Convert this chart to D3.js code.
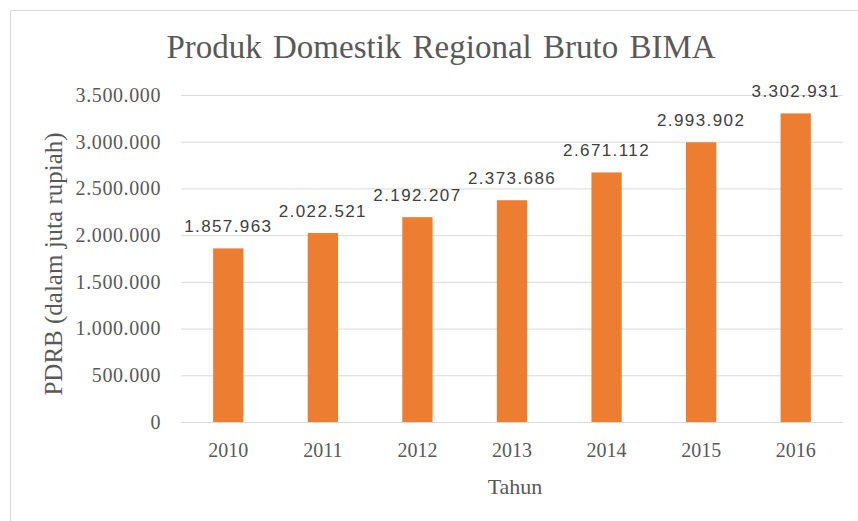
<!DOCTYPE html>
<html>
<head>
<meta charset="utf-8">
<script src="https://cdn.jsdelivr.net/npm/d3@7"></script>
<style>
  html, body { margin: 0; padding: 0; background: #fff; }
  svg { display: block; }
</style>
</head>
<body>
<svg id="chart" width="858" height="521"></svg>
<script>
// PDRB Kabupaten Bima, 2010-2016 (juta rupiah)
const years = ["2010", "2011", "2012", "2013", "2014", "2015", "2016"];
const pdrb = [1857963, 2022521, 2192207, 2373686, 2671112, 2993902, 3302931];
const yTicks = [0, 500000, 1000000, 1500000, 2000000, 2500000, 3000000, 3500000];

const titleText = "Produk Domestik Regional Bruto BIMA";
const yTitle = "PDRB (dalam juta rupiah)";
const xTitle = "Tahun";

const W = 858, H = 521;
const plot = { left: 181, right: 843, top: 95, bottom: 422 };
const serif = "'Liberation Serif', 'Times New Roman', serif";
const sans = "'Liberation Sans', Arial, sans-serif";

// Thousands separated with dots
const fmt = v => d3.format(",")(v).replace(/,/g, ".");

const svg = d3.select("#chart");

// Chart area frame (top and left edges)
svg.append("path")
  .attr("d", `M10.5,${H} L10.5,10.5 L${W},10.5`)
  .attr("fill", "none")
  .attr("stroke", "#d9d9d9")
  .attr("stroke-width", 1);

const x = d3.scaleBand()
  .domain(years)
  .range([plot.left, plot.right])
  .paddingInner(0.68)
  .paddingOuter(0.34);

const y = d3.scaleLinear()
  .domain([0, 3500000])
  .range([plot.bottom, plot.top]);

// Horizontal gridlines with tick labels
const yAxis = d3.axisLeft(y)
  .tickValues(yTicks)
  .tickSize(-(plot.right - plot.left))
  .tickPadding(20)
  .tickFormat(fmt);

const gy = svg.append("g")
  .attr("transform", `translate(${plot.left},0)`)
  .call(yAxis);
gy.select(".domain").remove();
gy.selectAll(".tick line").attr("stroke", "#d9d9d9").attr("stroke-width", 1);
gy.selectAll(".tick text")
  .attr("fill", "#595959")
  .style("font-family", serif)
  .style("font-size", "20px")
  .style("letter-spacing", "0.6px");

// Category axis labels
const xAxis = d3.axisBottom(x).tickSize(0).tickPadding(21);
const gx = svg.append("g")
  .attr("transform", `translate(0,${plot.bottom})`)
  .call(xAxis);
gx.select(".domain").remove();
gx.selectAll(".tick text")
  .attr("fill", "#595959")
  .style("font-family", serif)
  .style("font-size", "20px");

// Bars
svg.append("g")
  .selectAll("rect")
  .data(years.map((yr, i) => ({ yr, v: pdrb[i] })))
  .join("rect")
  .attr("x", d => x(d.yr))
  .attr("y", d => y(d.v))
  .attr("width", x.bandwidth())
  .attr("height", d => y(0) - y(d.v))
  .attr("fill", "#ED7D31");

// Value labels above bars
svg.append("g")
  .selectAll("text")
  .data(years.map((yr, i) => ({ yr, v: pdrb[i] })))
  .join("text")
  .attr("x", d => x(d.yr) + x.bandwidth() / 2)
  .attr("y", d => y(d.v) - 16)
  .attr("text-anchor", "middle")
  .attr("fill", "#404040")
  .style("font-family", sans)
  .style("font-size", "17px")
  .style("letter-spacing", "1.4px")
  .text(d => fmt(d.v));

// Title
svg.append("text")
  .attr("x", 441)
  .attr("y", 58)
  .attr("text-anchor", "middle")
  .attr("fill", "#595959")
  .style("font-family", serif)
  .style("font-size", "33px")
  .style("word-spacing", "3px")
  .text(titleText);

// Axis titles
svg.append("text")
  .attr("transform", `translate(62,264) rotate(-90)`)
  .attr("text-anchor", "middle")
  .attr("fill", "#595959")
  .style("font-family", serif)
  .style("font-size", "25px")
  .text(yTitle);

svg.append("text")
  .attr("x", 515)
  .attr("y", 494)
  .attr("text-anchor", "middle")
  .attr("fill", "#595959")
  .style("font-family", serif)
  .style("font-size", "22px")
  .text(xTitle);
</script>
</body>
</html>
